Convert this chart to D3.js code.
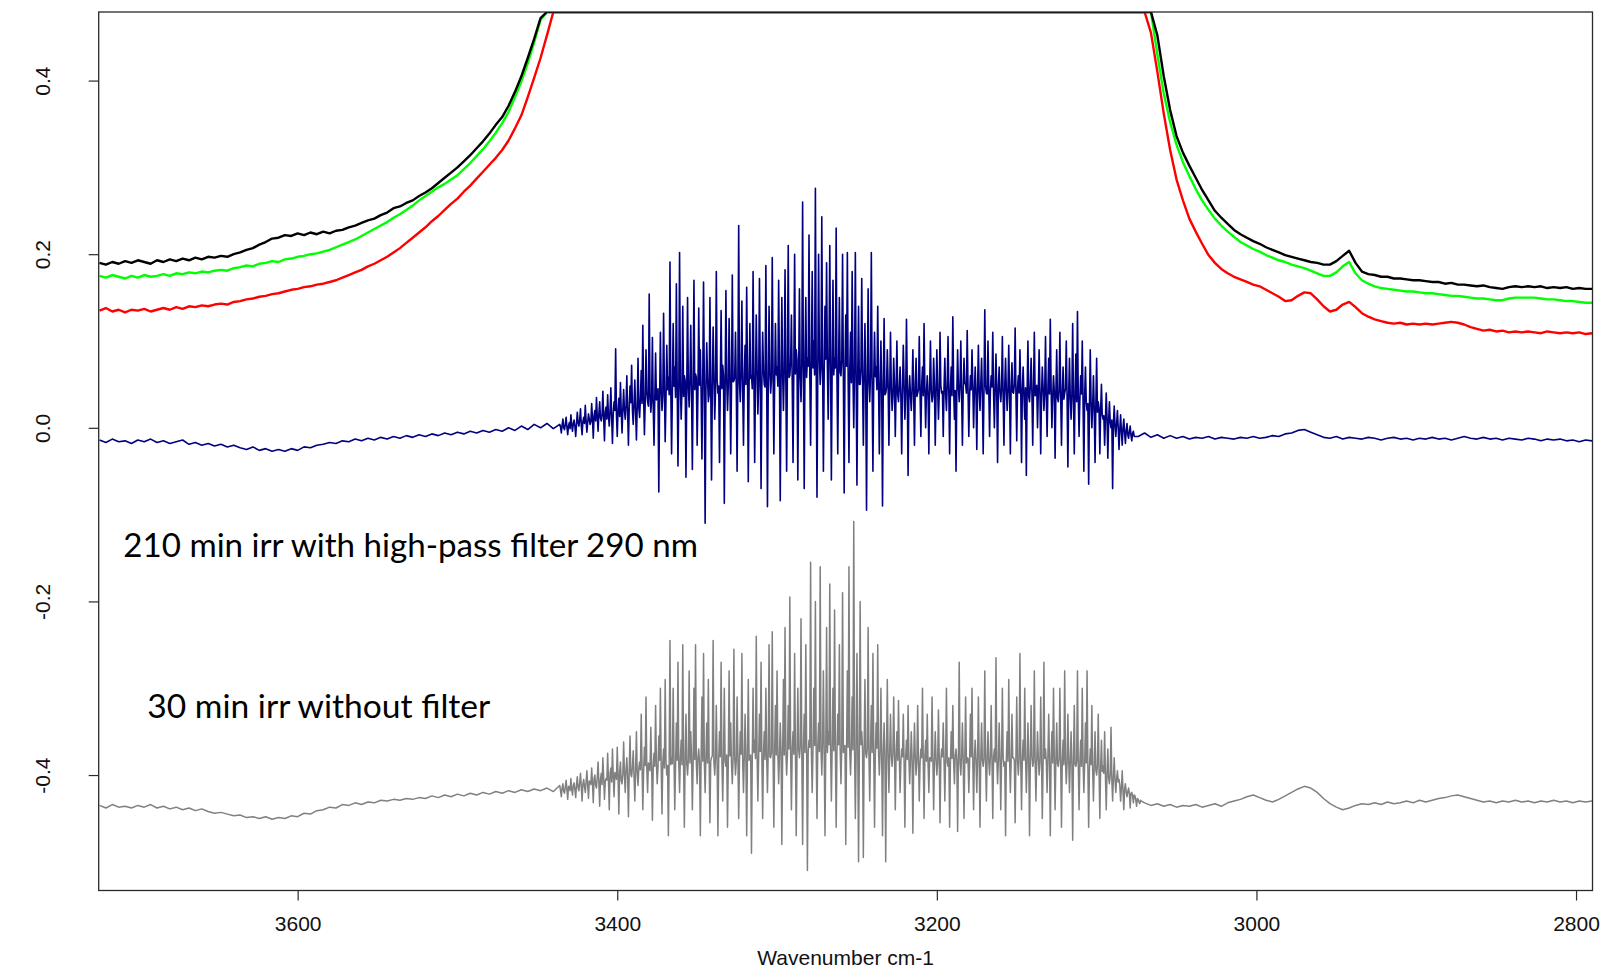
<!DOCTYPE html>
<html>
<head>
<meta charset="utf-8">
<script src="https://cdn.jsdelivr.net/npm/d3@7"></script>
<style>
  html, body { margin: 0; padding: 0; background: #fff; }
  svg { display: block; }
</style>
</head>
<body>
<svg id="chart" width="1606" height="970"></svg>
<script>
// ---- axis ticks -------------------------------------------------------
const xTicks = [3600, 3400, 3200, 3000, 2800];
const yTicks = [0.4, 0.2, 0.0, -0.2, -0.4];
const yTickLabels = ["0.4", "0.2", "0.0", "-0.2", "-0.4"];
const xTitle = "Wavenumber cm-1";

// absorbance ceiling: the strong O-H band saturates at the top of the frame
const saturated = 0.479;

// ---- spectra (wavenumbers run high -> low) -----------------------------
// black trace: 3724 -> 3444 (step 4), then 3070 -> 2790 (step 4)
const blackLeft = [
  0.190, 0.188, 0.191, 0.189, 0.192, 0.190, 0.193, 0.191, 0.189, 0.193,
  0.191, 0.194, 0.192, 0.195, 0.193, 0.196, 0.194, 0.197, 0.196, 0.198,
  0.197, 0.200, 0.202, 0.205, 0.207, 0.211, 0.214, 0.218, 0.219, 0.222,
  0.221, 0.224, 0.222, 0.225, 0.223, 0.226, 0.224, 0.227, 0.228, 0.231,
  0.233, 0.236, 0.239, 0.241, 0.245, 0.248, 0.253, 0.255, 0.259, 0.262,
  0.267, 0.271, 0.276, 0.282, 0.288, 0.294, 0.300, 0.307, 0.314, 0.322,
  0.330, 0.339, 0.349, 0.358, 0.371, 0.387, 0.405, 0.426, 0.448, 0.472,
  saturated
];
const blackRight = [
  saturated, saturated, 0.452, 0.405, 0.366, 0.336, 0.317, 0.302, 0.288, 0.274,
  0.262, 0.250, 0.242, 0.235, 0.228, 0.223, 0.219, 0.215, 0.212, 0.208,
  0.205, 0.202, 0.199, 0.197, 0.195, 0.193, 0.191, 0.190, 0.188, 0.188,
  0.192, 0.198, 0.204, 0.190, 0.180, 0.177, 0.176, 0.174, 0.174, 0.172,
  0.172, 0.171, 0.170, 0.170, 0.169, 0.168, 0.168, 0.166, 0.167, 0.165,
  0.165, 0.164, 0.163, 0.164, 0.162, 0.161, 0.160, 0.162, 0.163, 0.162,
  0.163, 0.162, 0.163, 0.161, 0.162, 0.161, 0.162, 0.160, 0.161, 0.160,
  0.160
];

// green trace: same grid as black
const greenLeft = [
  0.175, 0.173, 0.176, 0.174, 0.172, 0.175, 0.173, 0.176, 0.174, 0.175,
  0.177, 0.175, 0.178, 0.177, 0.179, 0.178, 0.180, 0.179, 0.181, 0.182,
  0.181, 0.184, 0.185, 0.187, 0.186, 0.189, 0.190, 0.192, 0.191, 0.194,
  0.195, 0.197, 0.198, 0.200, 0.201, 0.203, 0.205, 0.208, 0.211, 0.214,
  0.217, 0.221, 0.225, 0.229, 0.233, 0.237, 0.242, 0.246, 0.251, 0.256,
  0.262, 0.267, 0.272, 0.277, 0.281, 0.286, 0.291, 0.298, 0.305, 0.313,
  0.321, 0.330, 0.340, 0.351, 0.364, 0.381, 0.399, 0.420, 0.444, 0.470,
  saturated
];
const greenRight = [
  saturated, saturated, 0.430, 0.385, 0.352, 0.326, 0.306, 0.290, 0.275, 0.262,
  0.251, 0.241, 0.233, 0.226, 0.220, 0.214, 0.210, 0.206, 0.203, 0.199,
  0.196, 0.193, 0.191, 0.188, 0.186, 0.184, 0.181, 0.178, 0.175, 0.175,
  0.179, 0.186, 0.191, 0.178, 0.170, 0.166, 0.163, 0.161, 0.160, 0.159,
  0.158, 0.157, 0.157, 0.156, 0.155, 0.155, 0.154, 0.153, 0.152, 0.152,
  0.151, 0.150, 0.149, 0.149, 0.148, 0.147, 0.147, 0.149, 0.150, 0.150,
  0.150, 0.150, 0.149, 0.148, 0.148, 0.147, 0.146, 0.146, 0.145, 0.144,
  0.144
];

// red trace: 3724 -> 3440 (step 4), then 3070 -> 2790 (step 4)
const redLeft = [
  0.135, 0.138, 0.134, 0.136, 0.133, 0.136, 0.135, 0.137, 0.134, 0.136,
  0.138, 0.136, 0.139, 0.137, 0.140, 0.139, 0.141, 0.140, 0.142, 0.143,
  0.142, 0.145, 0.146, 0.148, 0.149, 0.151, 0.152, 0.154, 0.155, 0.157,
  0.159, 0.160, 0.162, 0.163, 0.165, 0.166, 0.168, 0.170, 0.173, 0.176,
  0.179, 0.182, 0.186, 0.189, 0.193, 0.197, 0.202, 0.207, 0.213, 0.219,
  0.225, 0.231, 0.238, 0.244, 0.251, 0.258, 0.264, 0.272, 0.279, 0.287,
  0.295, 0.303, 0.311, 0.320, 0.331, 0.345, 0.360, 0.381, 0.403, 0.426,
  0.452, saturated
];
const redRight = [
  saturated, 0.455, 0.410, 0.362, 0.320, 0.286, 0.262, 0.241, 0.226, 0.212,
  0.199, 0.190, 0.183, 0.178, 0.174, 0.171, 0.168, 0.165, 0.163, 0.159,
  0.155, 0.151, 0.146, 0.147, 0.152, 0.156, 0.155, 0.148, 0.140, 0.134,
  0.136, 0.142, 0.145, 0.139, 0.132, 0.128, 0.125, 0.123, 0.121, 0.120,
  0.121, 0.119, 0.120, 0.119, 0.120, 0.119, 0.120, 0.121, 0.122, 0.121,
  0.119, 0.116, 0.114, 0.112, 0.113, 0.111, 0.112, 0.110, 0.111, 0.110,
  0.111, 0.110, 0.109, 0.111, 0.110, 0.109, 0.110, 0.109, 0.110, 0.108,
  0.109
];

// navy trace (210 min, high-pass 290 nm)
// left: 3724 -> 3440 step 4; band: 3436 -> 3076.5 step 0.5; right: 3074 -> 2790 step 4
const navyLeft = [
  -0.014, -0.017, -0.013, -0.016, -0.015, -0.018, -0.014, -0.016, -0.013, -0.017,
  -0.015, -0.018, -0.016, -0.014, -0.019, -0.017, -0.020, -0.018, -0.021, -0.019,
  -0.022, -0.020, -0.023, -0.025, -0.022, -0.026, -0.024, -0.027, -0.025, -0.027,
  -0.024, -0.026, -0.022, -0.023, -0.020, -0.019, -0.017, -0.018, -0.015, -0.016,
  -0.013, -0.015, -0.012, -0.014, -0.011, -0.013, -0.010, -0.012, -0.009, -0.011,
  -0.008, -0.010, -0.007, -0.009, -0.006, -0.008, -0.005, -0.007, -0.004, -0.006,
  -0.003, -0.005, -0.002, -0.004, 0.000, -0.003, 0.002, -0.002, 0.004, 0.000,
  0.005, -0.001
];
const navyBand = [
  0.004, 0.001, -0.006, 0.003, 0.010, 0.000, -0.002, 0.004, 0.012, 0.001, -0.008, 0.002, 0.006, -0.001, 0.015, 0.003, -0.004, 0.005, 0.009, 0.002,
  -0.010, 0.004, 0.018, 0.006, 0.002, 0.009, 0.022, 0.003, -0.008, 0.007, 0.012, 0.005, 0.026, 0.008, -0.005, 0.006, 0.016, 0.010, 0.004, 0.007,
  0.028, 0.010, -0.012, 0.014, 0.020, 0.008, 0.035, 0.013, -0.004, 0.016, 0.030, 0.011, 0.008, 0.015, 0.042, 0.012, -0.015, 0.018, 0.024, 0.010,
  0.038, 0.014, 0.002, 0.019, 0.046, 0.012, -0.018, 0.017, 0.030, 0.020, 0.091, 0.015, -0.010, 0.021, 0.034, 0.013, 0.052, 0.018, -0.006, 0.022,
  0.044, 0.020, 0.010, 0.026, 0.060, 0.018, -0.020, 0.024, 0.048, 0.029, 0.072, 0.021, 0.004, 0.027, 0.055, 0.019, -0.014, 0.025, 0.080, 0.023,
  0.012, 0.034, 0.066, 0.028, 0.118, 0.036, -0.008, 0.030, 0.090, 0.041, 0.030, 0.025, 0.154, 0.038, 0.018, 0.032, 0.104, 0.027, -0.020, 0.035,
  0.086, 0.032, 0.040, 0.045, -0.074, 0.030, 0.110, 0.042, 0.020, 0.036, 0.132, 0.048, -0.016, 0.033, 0.095, 0.044, 0.058, 0.038, 0.191, 0.046,
  -0.030, 0.040, 0.120, 0.048, 0.070, 0.035, 0.166, 0.052, -0.044, 0.038, 0.202, 0.050, 0.010, 0.043, 0.140, 0.036, 0.060, 0.054, -0.057, 0.041,
  0.150, 0.047, 0.024, 0.055, 0.118, 0.040, -0.048, 0.052, 0.170, 0.044, 0.062, 0.058, -0.020, 0.041, 0.138, 0.049, 0.090, 0.039, -0.036, 0.053,
  0.168, 0.050, -0.110, 0.044, 0.098, 0.057, 0.030, 0.038, 0.150, 0.051, -0.060, 0.046, 0.116, 0.059, 0.010, 0.042, 0.180, 0.055, 0.040, 0.048,
  -0.040, 0.052, 0.135, 0.045, 0.072, 0.060, -0.087, 0.043, 0.158, 0.056, 0.020, 0.049, 0.126, 0.062, -0.030, 0.047, 0.176, 0.053, 0.054, 0.058,
  0.110, 0.046, -0.050, 0.061, 0.233, 0.052, 0.030, 0.064, 0.146, 0.044, -0.020, 0.058, 0.095, 0.050, 0.162, 0.066, -0.062, 0.048, 0.120, 0.057,
  0.060, 0.045, 0.180, 0.062, -0.040, 0.054, 0.130, 0.068, 0.016, 0.049, 0.172, 0.060, -0.070, 0.051, 0.110, 0.066, 0.050, 0.047, 0.187, 0.058,
  -0.091, 0.050, 0.140, 0.064, 0.040, 0.056, 0.196, 0.070, -0.030, 0.052, 0.120, 0.061, 0.070, 0.048, 0.170, 0.066, -0.084, 0.054, 0.150, 0.063,
  0.020, 0.067, 0.182, 0.055, -0.050, 0.072, 0.210, 0.058, 0.060, 0.075, 0.130, 0.053, -0.040, 0.069, 0.200, 0.062, 0.090, 0.078, -0.060, 0.057,
  0.160, 0.060, 0.030, 0.074, 0.260, 0.066, -0.070, 0.080, 0.150, 0.058, 0.080, 0.071, 0.222, 0.063, -0.020, 0.077, 0.180, 0.069, 0.100, 0.061,
  0.276, 0.072, -0.080, 0.065, 0.200, 0.081, 0.050, 0.068, 0.243, 0.076, -0.050, 0.063, 0.140, 0.079, 0.190, 0.070, 0.010, 0.084, 0.210, 0.066,
  -0.060, 0.074, 0.170, 0.061, 0.080, 0.069, 0.230, 0.058, -0.030, 0.072, 0.150, 0.064, 0.060, 0.078, 0.200, 0.060, -0.075, 0.067, 0.130, 0.071,
  0.202, 0.058, -0.040, 0.066, 0.110, 0.052, 0.180, 0.063, 0.000, 0.069, 0.202, 0.055, -0.066, 0.061, 0.140, 0.050, 0.050, 0.067, 0.172, 0.057,
  -0.020, 0.060, 0.120, 0.049, -0.095, 0.057, 0.160, 0.052, 0.030, 0.062, 0.202, 0.047, -0.050, 0.055, 0.110, 0.059, 0.070, 0.044, 0.140, 0.053,
  -0.030, 0.048, 0.100, 0.041, -0.090, 0.050, 0.126, 0.038, 0.040, 0.046, 0.090, 0.052, -0.020, 0.040, 0.110, 0.047, 0.020, 0.036, 0.080, 0.049,
  -0.010, 0.044, 0.100, 0.038, 0.030, 0.047, 0.070, 0.035, -0.030, 0.043, 0.095, 0.050, 0.010, 0.039, 0.125, 0.046, -0.055, 0.041, 0.060, 0.037,
  0.020, 0.045, 0.090, 0.039, -0.020, 0.048, 0.080, 0.036, 0.040, 0.044, 0.105, 0.040, -0.010, 0.049, 0.070, 0.037, 0.120, 0.046, 0.000, 0.041,
  0.060, 0.038, -0.030, 0.047, 0.100, 0.043, 0.030, 0.036, 0.080, 0.049, -0.020, 0.040, 0.090, 0.045, 0.010, 0.038, 0.110, 0.048, 0.040, 0.042,
  -0.010, 0.046, 0.080, 0.039, 0.020, 0.050, 0.105, 0.041, -0.030, 0.044, 0.070, 0.037, 0.128, 0.048, 0.010, 0.043, -0.050, 0.040, 0.090, 0.047,
  0.030, 0.049, 0.100, 0.038, -0.020, 0.045, 0.080, 0.051, 0.050, 0.040, 0.112, 0.047, -0.010, 0.036, 0.060, 0.044, 0.090, 0.050, 0.000, 0.042,
  0.070, 0.039, -0.025, 0.046, 0.095, 0.041, 0.020, 0.050, 0.080, 0.037, -0.030, 0.044, 0.136, 0.048, 0.040, 0.039, 0.100, 0.045, -0.010, 0.042,
  0.060, 0.047, 0.110, 0.040, 0.000, 0.046, 0.085, 0.038, -0.040, 0.049, 0.070, 0.041, 0.030, 0.045, 0.105, 0.036, -0.020, 0.048, 0.080, 0.043,
  0.020, 0.044, 0.095, 0.039, -0.030, 0.047, 0.075, 0.041, 0.040, 0.050, 0.115, 0.038, -0.015, 0.046, 0.060, 0.040, 0.090, 0.045, -0.040, 0.043,
  0.070, 0.038, 0.010, 0.046, -0.055, 0.042, 0.100, 0.036, 0.030, 0.048, 0.080, 0.040, -0.020, 0.045, 0.110, 0.037, 0.040, 0.049, 0.000, 0.041,
  0.090, 0.043, -0.030, 0.037, 0.070, 0.046, 0.020, 0.040, 0.105, 0.035, -0.010, 0.044, 0.080, 0.039, 0.125, 0.047, 0.000, 0.036, 0.060, 0.042,
  -0.035, 0.040, 0.090, 0.034, 0.030, 0.043, 0.110, 0.037, -0.020, 0.041, 0.070, 0.033, 0.040, 0.045, 0.100, 0.036, -0.045, 0.039, 0.080, 0.035,
  0.010, 0.038, 0.120, 0.032, -0.030, 0.040, 0.085, 0.030, 0.134, 0.037, -0.010, 0.033, 0.060, 0.039, 0.100, 0.031, -0.050, 0.036, 0.070, 0.029,
  0.020, 0.028, -0.065, 0.022, 0.090, 0.030, 0.000, 0.024, 0.060, 0.020, -0.040, 0.026, 0.080, 0.018, 0.030, 0.023, -0.030, 0.019, 0.050, 0.015,
  0.010, 0.014, -0.020, 0.010, 0.040, 0.012, -0.035, 0.008, 0.030, 0.006, 0.000, 0.009, -0.070, 0.004, 0.025, 0.002, -0.010, 0.005, 0.020, 0.000,
  -0.025, -0.002, 0.015, -0.005, -0.020, 0.000, 0.010, -0.006, -0.018, -0.003, 0.005, -0.008, -0.012, -0.004, 0.002, -0.009, -0.015, -0.006, -0.004, -0.010
];
const navyRight = [
  -0.010, -0.006, -0.011, -0.008, -0.012, -0.009, -0.012, -0.010, -0.013, -0.011,
  -0.012, -0.010, -0.013, -0.011, -0.012, -0.013, -0.011, -0.012, -0.010, -0.012,
  -0.011, -0.009, -0.010, -0.007, -0.006, -0.003, -0.002, -0.005, -0.008, -0.011,
  -0.012, -0.010, -0.013, -0.011, -0.012, -0.013, -0.011, -0.012, -0.014, -0.012,
  -0.011, -0.013, -0.012, -0.014, -0.012, -0.013, -0.011, -0.013, -0.012, -0.014,
  -0.012, -0.010, -0.012, -0.013, -0.011, -0.013, -0.012, -0.014, -0.012, -0.013,
  -0.014, -0.012, -0.013, -0.015, -0.013, -0.014, -0.013, -0.015, -0.014, -0.016,
  -0.014, -0.015
];

// grey trace (30 min, no filter)
// left: 3724 -> 3440 step 4; band: 3436 -> 3072 step 0.5; right: 3070 -> 2790 step 4
const greyLeft = [
  -0.435, -0.438, -0.434, -0.437, -0.436, -0.438, -0.435, -0.437, -0.434, -0.438,
  -0.436, -0.439, -0.437, -0.440, -0.438, -0.441, -0.439, -0.442, -0.444, -0.443,
  -0.445, -0.447, -0.446, -0.449, -0.448, -0.450, -0.448, -0.451, -0.449, -0.450,
  -0.447, -0.448, -0.444, -0.445, -0.441, -0.440, -0.437, -0.438, -0.434, -0.435,
  -0.432, -0.434, -0.431, -0.432, -0.429, -0.430, -0.428, -0.429, -0.427, -0.428,
  -0.426, -0.427, -0.424, -0.426, -0.423, -0.425, -0.422, -0.424, -0.421, -0.423,
  -0.420, -0.422, -0.419, -0.421, -0.418, -0.420, -0.417, -0.419, -0.416, -0.418,
  -0.415, -0.419
];
const greyBand = [
  -0.412, -0.418, -0.425, -0.415, -0.410, -0.419, -0.421, -0.414, -0.406, -0.417, -0.428, -0.413, -0.414, -0.418, -0.404, -0.416, -0.423, -0.412, -0.409, -0.417,
  -0.426, -0.411, -0.402, -0.415, -0.418, -0.409, -0.398, -0.414, -0.430, -0.410, -0.405, -0.413, -0.420, -0.408, -0.395, -0.412, -0.427, -0.407, -0.408, -0.411,
  -0.392, -0.410, -0.432, -0.404, -0.400, -0.412, -0.415, -0.403, -0.385, -0.409, -0.436, -0.405, -0.398, -0.411, -0.380, -0.402, -0.428, -0.407, -0.404, -0.406,
  -0.375, -0.406, -0.440, -0.398, -0.392, -0.408, -0.370, -0.401, -0.425, -0.397, -0.400, -0.405, -0.368, -0.400, -0.445, -0.396, -0.385, -0.407, -0.410, -0.399,
  -0.362, -0.400, -0.420, -0.393, -0.380, -0.402, -0.448, -0.395, -0.355, -0.399, -0.402, -0.391, -0.372, -0.401, -0.430, -0.394, -0.350, -0.398, -0.412, -0.392,
  -0.385, -0.394, -0.330, -0.388, -0.440, -0.396, -0.368, -0.389, -0.310, -0.393, -0.420, -0.386, -0.390, -0.395, -0.345, -0.387, -0.452, -0.392, -0.375, -0.390,
  -0.320, -0.386, -0.410, -0.391, -0.355, -0.383, -0.300, -0.390, -0.445, -0.385, -0.370, -0.392, -0.290, -0.384, -0.400, -0.389, -0.470, -0.382, -0.245, -0.388,
  -0.380, -0.387, -0.300, -0.381, -0.440, -0.389, -0.340, -0.383, -0.270, -0.386, -0.420, -0.380, -0.360, -0.388, -0.250, -0.384, -0.460, -0.379, -0.330, -0.387,
  -0.400, -0.381, -0.280, -0.386, -0.350, -0.379, -0.440, -0.385, -0.300, -0.382, -0.250, -0.387, -0.410, -0.380, -0.370, -0.386, -0.470, -0.378, -0.310, -0.384,
  -0.260, -0.385, -0.420, -0.379, -0.340, -0.386, -0.290, -0.381, -0.455, -0.384, -0.380, -0.378, -0.245, -0.385, -0.400, -0.380, -0.320, -0.387, -0.470, -0.382,
  -0.350, -0.379, -0.270, -0.385, -0.430, -0.380, -0.300, -0.384, -0.390, -0.377, -0.460, -0.383, -0.280, -0.378, -0.340, -0.386, -0.410, -0.381, -0.255, -0.379,
  -0.400, -0.383, -0.310, -0.377, -0.450, -0.382, -0.350, -0.376, -0.260, -0.384, -0.420, -0.378, -0.330, -0.381, -0.470, -0.375, -0.290, -0.383, -0.380, -0.377,
  -0.490, -0.380, -0.300, -0.374, -0.360, -0.381, -0.240, -0.376, -0.430, -0.379, -0.330, -0.373, -0.270, -0.380, -0.450, -0.375, -0.350, -0.382, -0.300, -0.377,
  -0.420, -0.372, -0.250, -0.379, -0.380, -0.374, -0.235, -0.378, -0.460, -0.371, -0.320, -0.377, -0.280, -0.373, -0.410, -0.379, -0.340, -0.372, -0.480, -0.376,
  -0.290, -0.377, -0.230, -0.371, -0.400, -0.376, -0.320, -0.370, -0.195, -0.375, -0.440, -0.369, -0.350, -0.376, -0.260, -0.372, -0.470, -0.377, -0.300, -0.370,
  -0.380, -0.368, -0.220, -0.375, -0.480, -0.369, -0.330, -0.374, -0.250, -0.367, -0.510, -0.373, -0.360, -0.368, -0.155, -0.375, -0.420, -0.370, -0.300, -0.366,
  -0.200, -0.372, -0.450, -0.366, -0.340, -0.373, -0.160, -0.368, -0.400, -0.364, -0.280, -0.371, -0.470, -0.367, -0.230, -0.374, -0.350, -0.365, -0.180, -0.370,
  -0.430, -0.366, -0.300, -0.372, -0.210, -0.368, -0.460, -0.373, -0.330, -0.365, -0.250, -0.371, -0.410, -0.367, -0.190, -0.374, -0.370, -0.366, -0.480, -0.370,
  -0.280, -0.368, -0.160, -0.373, -0.400, -0.366, -0.310, -0.371, -0.108, -0.369, -0.450, -0.374, -0.260, -0.367, -0.500, -0.372, -0.200, -0.365, -0.350, -0.370,
  -0.495, -0.369, -0.290, -0.375, -0.380, -0.370, -0.230, -0.376, -0.430, -0.368, -0.320, -0.374, -0.260, -0.371, -0.460, -0.377, -0.340, -0.369, -0.250, -0.373,
  -0.400, -0.374, -0.300, -0.379, -0.470, -0.373, -0.340, -0.380, -0.500, -0.375, -0.290, -0.378, -0.420, -0.372, -0.330, -0.379, -0.390, -0.374, -0.310, -0.377,
  -0.440, -0.377, -0.350, -0.383, -0.314, -0.378, -0.420, -0.384, -0.370, -0.379, -0.330, -0.385, -0.460, -0.378, -0.360, -0.382, -0.320, -0.380, -0.410, -0.384,
  -0.350, -0.380, -0.467, -0.385, -0.340, -0.379, -0.400, -0.384, -0.320, -0.381, -0.430, -0.386, -0.370, -0.380, -0.300, -0.383, -0.450, -0.378, -0.360, -0.384,
  -0.330, -0.386, -0.420, -0.380, -0.380, -0.384, -0.310, -0.379, -0.440, -0.385, -0.350, -0.381, -0.400, -0.386, -0.325, -0.380, -0.455, -0.383, -0.370, -0.379,
  -0.340, -0.384, -0.430, -0.379, -0.300, -0.385, -0.390, -0.380, -0.460, -0.386, -0.350, -0.381, -0.320, -0.384, -0.410, -0.378, -0.370, -0.383, -0.465, -0.380,
  -0.270, -0.385, -0.400, -0.379, -0.340, -0.384, -0.450, -0.380, -0.310, -0.386, -0.380, -0.381, -0.420, -0.385, -0.330, -0.379, -0.300, -0.383, -0.440, -0.380,
  -0.360, -0.384, -0.420, -0.380, -0.310, -0.386, -0.460, -0.379, -0.340, -0.383, -0.390, -0.381, -0.280, -0.385, -0.430, -0.380, -0.350, -0.384, -0.400, -0.379,
  -0.320, -0.383, -0.450, -0.379, -0.370, -0.385, -0.265, -0.380, -0.410, -0.384, -0.340, -0.378, -0.440, -0.383, -0.300, -0.380, -0.390, -0.385, -0.470, -0.381,
  -0.350, -0.384, -0.290, -0.379, -0.420, -0.385, -0.330, -0.380, -0.380, -0.383, -0.455, -0.378, -0.310, -0.384, -0.400, -0.380, -0.260, -0.385, -0.440, -0.381,
  -0.360, -0.383, -0.300, -0.379, -0.420, -0.385, -0.340, -0.380, -0.470, -0.384, -0.320, -0.379, -0.390, -0.385, -0.280, -0.381, -0.430, -0.384, -0.350, -0.380,
  -0.400, -0.385, -0.310, -0.380, -0.450, -0.386, -0.270, -0.381, -0.370, -0.384, -0.420, -0.379, -0.330, -0.385, -0.470, -0.382, -0.350, -0.386, -0.300, -0.381,
  -0.440, -0.382, -0.340, -0.387, -0.390, -0.381, -0.300, -0.386, -0.460, -0.383, -0.360, -0.388, -0.280, -0.382, -0.410, -0.386, -0.330, -0.381, -0.420, -0.385,
  -0.350, -0.387, -0.475, -0.383, -0.320, -0.388, -0.390, -0.384, -0.280, -0.389, -0.440, -0.385, -0.360, -0.390, -0.300, -0.384, -0.420, -0.388, -0.340, -0.386,
  -0.280, -0.389, -0.460, -0.392, -0.370, -0.388, -0.320, -0.393, -0.430, -0.390, -0.350, -0.394, -0.400, -0.389, -0.330, -0.395, -0.450, -0.391, -0.360, -0.396,
  -0.390, -0.398, -0.350, -0.401, -0.440, -0.397, -0.370, -0.403, -0.410, -0.400, -0.345, -0.405, -0.430, -0.402, -0.380, -0.406, -0.420, -0.404, -0.395, -0.408,
  -0.405, -0.412, -0.430, -0.415, -0.395, -0.418, -0.440, -0.416, -0.410, -0.420, -0.425, -0.419, -0.415, -0.422, -0.438, -0.421, -0.420, -0.424, -0.432, -0.423,
  -0.424, -0.429, -0.436, -0.427, -0.428, -0.431, -0.433, -0.429, -0.430
];
const greyRight = [
  -0.432, -0.435, -0.433, -0.436, -0.434, -0.437, -0.435, -0.436, -0.434, -0.437,
  -0.435, -0.433, -0.436, -0.432, -0.430, -0.428, -0.425, -0.423, -0.426, -0.429,
  -0.431, -0.428, -0.424, -0.420, -0.416, -0.413, -0.415, -0.420, -0.427, -0.433,
  -0.437, -0.440, -0.438, -0.435, -0.433, -0.434, -0.432, -0.434, -0.431, -0.433,
  -0.432, -0.430, -0.432, -0.429, -0.431, -0.429, -0.427, -0.426, -0.424, -0.423,
  -0.425, -0.427, -0.429, -0.431, -0.430, -0.432, -0.430, -0.431, -0.429, -0.431,
  -0.430, -0.432, -0.430, -0.431, -0.429, -0.431, -0.430, -0.432, -0.430, -0.431,
  -0.430
];

const annotations = [
  "210 min irr with high-pass filter 290 nm",
  "30 min irr without filter"
];

// ---- layout -----------------------------------------------------------
const plot = { left: 98.7, right: 1592.5, top: 12, bottom: 890.5 };

const x = d3.scaleLinear().domain([3724.5, 2789.7]).range([plot.left, plot.right]);
const y = d3.scaleLinear().domain([-0.533, saturated]).range([plot.bottom, plot.top]);

// expand {start, step, values} segments into points on the wavenumber grid
function trace(segments) {
  return segments.flatMap(s => s.values.map((v, i) => ({ wn: s.start - i * s.step, v })));
}

const series = [
  { color: "#808080", width: 1.5, pts: trace([
      { start: 3724, step: 4, values: greyLeft },
      { start: 3436, step: 0.5, values: greyBand },
      { start: 3070, step: 4, values: greyRight }]) },
  { color: "#000080", width: 1.6, pts: trace([
      { start: 3724, step: 4, values: navyLeft },
      { start: 3436, step: 0.5, values: navyBand },
      { start: 3074, step: 4, values: navyRight }]) },
  { color: "#ff0000", width: 2.4, pts: trace([
      { start: 3724, step: 4, values: redLeft },
      { start: 3070, step: 4, values: redRight }]) },
  { color: "#00ff00", width: 2.4, pts: trace([
      { start: 3724, step: 4, values: greenLeft },
      { start: 3070, step: 4, values: greenRight }]) },
  { color: "#000000", width: 2.4, pts: trace([
      { start: 3724, step: 4, values: blackLeft },
      { start: 3070, step: 4, values: blackRight }]) }
];

const svg = d3.select("#chart");

svg.append("defs").append("clipPath").attr("id", "plot-clip")
  .append("rect")
  .attr("x", plot.left).attr("y", plot.top)
  .attr("width", plot.right - plot.left).attr("height", plot.bottom - plot.top);

const line = d3.line().x(d => x(d.wn)).y(d => y(d.v));

svg.append("g").attr("clip-path", "url(#plot-clip)")
  .selectAll("path").data(series).join("path")
  .attr("d", d => line(d.pts))
  .attr("fill", "none")
  .attr("stroke", d => d.color)
  .attr("stroke-width", d => d.width)
  .attr("stroke-linejoin", "round");

// frame
svg.append("rect")
  .attr("x", plot.left).attr("y", plot.top)
  .attr("width", plot.right - plot.left).attr("height", plot.bottom - plot.top)
  .attr("fill", "none").attr("stroke", "#2a2a2a").attr("stroke-width", 1.3);

const axisFont = "'Liberation Sans', Arial, sans-serif";

// bottom axis
const gx = svg.append("g")
  .attr("transform", `translate(0,${plot.bottom})`)
  .call(d3.axisBottom(x).tickValues(xTicks).tickSize(10).tickPadding(16).tickFormat(d3.format("d")));
gx.select(".domain").remove();
gx.selectAll(".tick line").attr("stroke", "#2a2a2a").attr("stroke-width", 1.2);
gx.selectAll(".tick text")
  .attr("font-family", axisFont).attr("font-size", 21).attr("fill", "#111");

// left axis with rotated labels
const gy = svg.append("g")
  .attr("transform", `translate(${plot.left},0)`)
  .call(d3.axisLeft(y).tickValues(yTicks).tickSize(10).tickFormat((d, i) => yTickLabels[i]));
gy.select(".domain").remove();
gy.selectAll(".tick line").attr("stroke", "#2a2a2a").attr("stroke-width", 1.2);
gy.selectAll(".tick text")
  .attr("x", null).attr("dy", null)
  .attr("transform", "translate(-49,0) rotate(-90)")
  .attr("text-anchor", "middle")
  .attr("font-family", axisFont).attr("font-size", 21).attr("fill", "#111");

// axis title
svg.append("text")
  .attr("x", (plot.left + plot.right) / 2).attr("y", 965)
  .attr("text-anchor", "middle")
  .attr("font-family", axisFont).attr("font-size", 21).attr("fill", "#111")
  .text(xTitle);

// annotations, sized to their set widths
const notePos = [
  { x: 123.3, y: 557, w: 575 },
  { x: 147.3, y: 717.5, w: 343 }
];
annotations.forEach((t, i) => {
  const p = notePos[i];
  const el = svg.append("text")
    .attr("x", p.x).attr("y", p.y)
    .attr("font-family", "Lato, 'Open Sans', sans-serif")
    .attr("font-size", 32).attr("fill", "#000")
    .text(t);
  const w = el.node().getComputedTextLength();
  el.attr("font-size", (32 * p.w / w).toFixed(2));
});
</script>
</body>
</html>
